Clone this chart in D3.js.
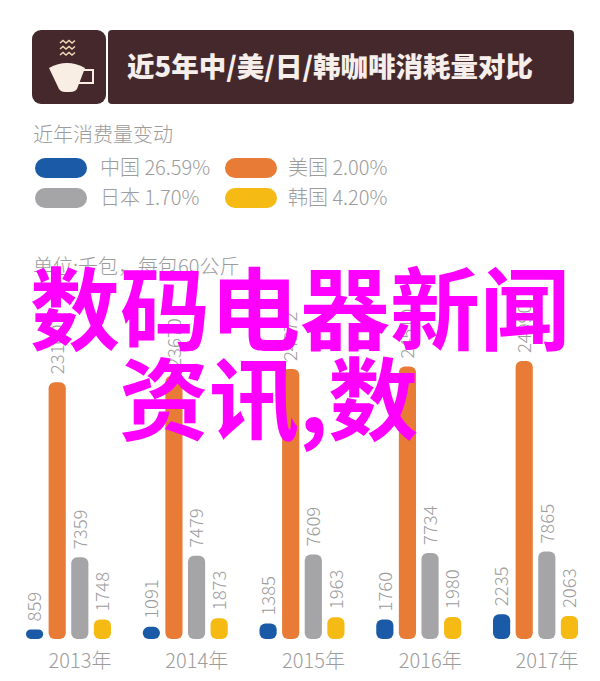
<!DOCTYPE html>
<html>
<head>
<meta charset="utf-8">
<script src="https://cdnjs.cloudflare.com/ajax/libs/d3/7.8.5/d3.min.js"></script>
<style>
html, body { margin: 0; padding: 0; background: #fff; }
text { font-family: "Noto Sans CJK SC", "Noto Sans", sans-serif; }
</style>
</head>
<body>
<div id="chart"></div>
<script>
// Data
const years = ['2013年', '2014年', '2015年', '2016年', '2017年'];
const countries = ['中国', '美国', '日本', '韩国'];
const changes = ['26.59%', '2.00%', '1.70%', '4.20%'];
const colors = ['#1a5aa6', '#e87b35', '#a5a5a7', '#f5bb14'];
const china = [859, 1091, 1385, 1760, 2235];
const usa = [23100, 23670, 24272, 24510, 24990];
const japan = [7359, 7479, 7609, 7734, 7865];
const korea = [1748, 1873, 1963, 1980, 2063];
const series = [china, usa, japan, korea];

const width = 600, height = 681;
const grey = '#9c9c9c';
const svg = d3.select('#chart').append('svg')
    .attr('width', width)
    .attr('height', height)
    .style('display', 'block');

// Header
svg.append('rect').attr('x', 32).attr('y', 30).attr('width', 74).attr('height', 74).attr('rx', 9).attr('fill', '#44282c');
svg.append('rect').attr('x', 108).attr('y', 30).attr('width', 466).attr('height', 74).attr('rx', 4).attr('fill', '#44282c');
svg.append('text').attr('x', 127).attr('y', 77)
    .attr('font-size', 27.5).attr('font-weight', 900).attr('fill', '#f6eeea')
    .text('近5年中/美/日/韩咖啡消耗量对比');

// Cup icon
const cup = svg.append('g').attr('fill', '#f9eee4');
cup.append('path').attr('d', 'M49 68 Q67 58 85 68 L77 89 Q75 92 70 92 L65 92 Q61 92 59 89 Z');
cup.append('path').attr('d', 'M84 70 H93 V83 H76').attr('fill', 'none').attr('stroke', '#f9eee4').attr('stroke-width', 2);
[43, 49, 55].forEach(y => {
    cup.append('path')
        .attr('d', `M60 ${y} l3 -2.5 l3 2.5 l3 -2.5 l3 2.5 l3 -2.5`)
        .attr('fill', 'none').attr('stroke', '#f3dcb8').attr('stroke-width', 1.4);
});

// Legend
svg.append('text').attr('x', 33).attr('y', 142).attr('font-size', 20).attr('font-weight', 300).attr('fill', grey).text('近年消费量变动');
const legendX = d3.scaleOrdinal().domain(countries).range([35, 225, 35, 225]);
const legendY = d3.scaleOrdinal().domain(countries).range([168, 168, 198, 198]);
const legend = svg.append('g').selectAll('g').data(countries).enter().append('g')
    .attr('transform', d => `translate(${legendX(d)},${legendY(d)})`);
legend.append('rect').attr('x', 0).attr('y', -10).attr('width', 52).attr('height', 20).attr('rx', 10)
    .attr('fill', (d, i) => colors[i]);
legend.append('text').attr('x', (d, i) => i % 2 ? 63 : 65).attr('y', 7).attr('font-size', 20).attr('font-weight', 300).attr('fill', grey)
    .text((d, i) => d + ' ' + changes[i]);

svg.append('text').attr('x', 33).attr('y', 274).attr('font-size', 20).attr('font-weight', 300).attr('fill', grey).text('单位:千包，每包60公斤');

// Scales
const x0 = d3.scaleBand().domain(years).range([26, 26 + 116.75 * 5]);
const x1 = d3.scaleBand().domain(countries).range([0, 85]).paddingInner(0.24);
const y = d3.scaleLinear().domain([0, 25000]).range([639, 361]);

const groups = svg.append('g').selectAll('g').data(years).enter().append('g')
    .attr('transform', d => `translate(${x0(d)},0)`);

countries.forEach((c, ci) => {
    const bw = x1.bandwidth();
    groups.append('rect')
        .attr('x', x1(c))
        .attr('y', (d, i) => y(series[ci][i]))
        .attr('width', bw)
        .attr('height', (d, i) => y(0) - y(series[ci][i]))
        .attr('rx', (d, i) => Math.min(6, (y(0) - y(series[ci][i])) / 2))
        .attr('fill', colors[ci]);
    groups.append('text')
        .attr('transform', (d, i) => `translate(${x1(c) + bw / 2 + 6.7},${y(series[ci][i]) - 8}) rotate(-90)`)
        .attr('font-size', 18.5).attr('font-weight', 300).attr('fill', grey)
        .text((d, i) => series[ci][i]);
});

// Year labels
svg.append('g').selectAll('text').data(years).enter().append('text')
    .attr('x', d => x0(d) + 54)
    .attr('y', 668)
    .attr('text-anchor', 'middle')
    .attr('font-size', 20).attr('font-weight', 300).attr('fill', grey)
    .text(d => d);

// Magenta overlay text
svg.append('text').attr('x', 30).attr('y', 343).attr('font-size', 90).attr('font-weight', 700).attr('fill', '#ff00ff').text('数码电器新闻');
svg.append('text').attr('x', 119).attr('y', 433).attr('font-size', 90).attr('font-weight', 700).attr('fill', '#ff00ff').text('资讯,数');
</script>
</body>
</html>
